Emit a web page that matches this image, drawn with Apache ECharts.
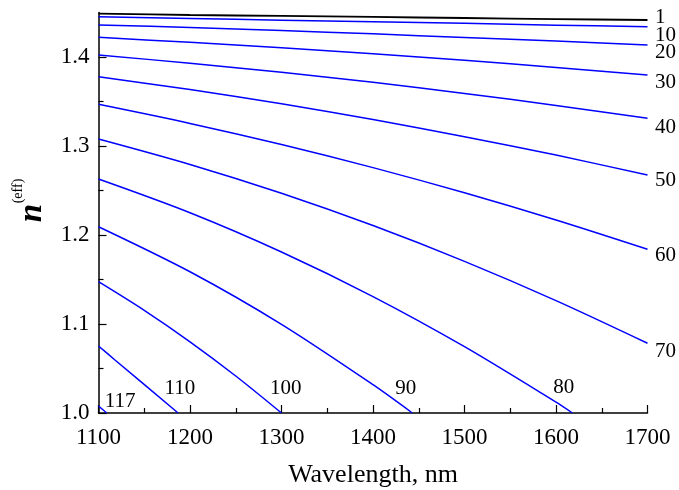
<!DOCTYPE html>
<html>
<head>
<meta charset="utf-8">
<script src="https://cdn.jsdelivr.net/npm/echarts@6/dist/echarts.min.js"></script>
<style>
  html, body { margin: 0; padding: 0; background: #fff; }
  #chart { width: 679px; height: 490px; }
</style>
</head>
<body>
<div id="chart"></div>
<script>
// Effective index of the guided modes versus wavelength.
const wavelength = [1100, 1200, 1300, 1400, 1500, 1600, 1700];
const mode1  = [1.4488, 1.4472, 1.4461, 1.4450, 1.4438, 1.4426, 1.4416];
const mode10 = [1.4453, 1.4433, 1.4414, 1.4396, 1.4378, 1.4358, 1.4340];
const mode20 = [1.4360, 1.4332, 1.4298, 1.4260, 1.4220, 1.4180, 1.4135];
const mode30 = [1.4221, 1.4165, 1.4104, 1.4036, 1.3963, 1.3883, 1.3798];
const mode40 = [1.4022, 1.3930, 1.3828, 1.3715, 1.3591, 1.3456, 1.3311];
const mode50 = [1.3779, 1.3634, 1.3474, 1.3298, 1.3105, 1.2898, 1.2674];
const mode60 = [1.3468, 1.3254, 1.3017, 1.2757, 1.2474, 1.2168, 1.1839];
const mode70 = [1.3079, 1.2793, 1.2469, 1.2106, 1.1704, 1.1263, 1.0784];

// Higher modes reach n = 1.0 (cut-off) inside the window.
const wl80   = [1100, 1200, 1300, 1400, 1500, 1600, 1618];
const mode80 = [1.2629, 1.2250, 1.1809, 1.1308, 1.0745, 1.0122, 1.0];
const wl90   = [1100, 1200, 1300, 1400, 1443];
const mode90 = [1.2093, 1.1587, 1.0996, 1.0318, 1.0];
const wl100   = [1100, 1150, 1200, 1250, 1300];
const mode100 = [1.1475, 1.1153, 1.0800, 1.0416, 1.0];
const wl110   = [1100, 1118, 1187];
const mode110 = [1.0753, 1.0596, 1.0];
const wl117   = [1100, 1109];
const mode117 = [1.0079, 1.0];

const xTicks = { min: 1100, max: 1700, step: 100 };
const yMajor = [1.0, 1.1, 1.2, 1.3, 1.4];
const yMinor = [1.05, 1.15, 1.25, 1.35];

const curves = [
  { name: '1',   x: wavelength, y: mode1 },
  { name: '10',  x: wavelength, y: mode10 },
  { name: '20',  x: wavelength, y: mode20 },
  { name: '30',  x: wavelength, y: mode30 },
  { name: '40',  x: wavelength, y: mode40 },
  { name: '50',  x: wavelength, y: mode50 },
  { name: '60',  x: wavelength, y: mode60 },
  { name: '70',  x: wavelength, y: mode70 },
  { name: '80',  x: wl80,  y: mode80 },
  { name: '90',  x: wl90,  y: mode90 },
  { name: '100', x: wl100, y: mode100 },
  { name: '110', x: wl110, y: mode110 },
  { name: '117', x: wl117, y: mode117 }
];

// Where each mode number sits relative to the curve's last point (pixels).
const labelPlacement = {
  '1':   { align: 'left',   dx: 7.5,  dy: -2.5 },
  '10':  { align: 'left',   dx: 7.5,  dy: 8.3 },
  '20':  { align: 'left',   dx: 7.5,  dy: 7 },
  '30':  { align: 'left',   dx: 7.5,  dy: 7.5 },
  '40':  { align: 'left',   dx: 7.5,  dy: 9.2 },
  '50':  { align: 'left',   dx: 7.5,  dy: 5.8 },
  '60':  { align: 'left',   dx: 7.5,  dy: 6.5 },
  '70':  { align: 'left',   dx: 7.5,  dy: 8.3 },
  '80':  { align: 'center', dx: -8.7, dy: -25.5 },
  '90':  { align: 'center', dx: -6.7, dy: -25 },
  '100': { align: 'center', dx: 4.3,  dy: -25 },
  '110': { align: 'center', dx: 1.7,  dy: -25 },
  '117': { align: 'center', dx: 13.3, dy: -11.5 }
};

const FONT = "'Liberation Serif', 'Times New Roman', serif";

const series = curves.map(c => {
  const pts = c.x.map((w, i) => [w, c.y[i]]);
  const last = pts[pts.length - 1];
  const lp = labelPlacement[c.name];
  return {
    name: c.name,
    type: 'line',
    data: pts,
    smooth: 0.3,
    showSymbol: false,
    clip: false,
    silent: true,
    lineStyle: { color: c.name === '1' ? '#000000' : '#0000ff', width: c.name === '1' ? 1.8 : 1.5 },
    markPoint: {
      symbol: 'circle',
      symbolSize: 1,
      silent: true,
      animation: false,
      itemStyle: { color: 'transparent' },
      label: {
        show: true,
        position: 'inside',
        formatter: c.name,
        color: '#000',
        fontFamily: FONT,
        fontSize: 21,
        align: lp.align,
        verticalAlign: 'middle',
        offset: [lp.dx, lp.dy]
      },
      data: [{ coord: last }]
    }
  };
});

const chart = echarts.init(document.getElementById('chart'), null, { renderer: 'canvas' });

chart.setOption({
  animation: false,
  backgroundColor: '#ffffff',
  textStyle: { fontFamily: FONT },
  grid: { left: 98.5, right: 31.5, top: 12.5, bottom: 77, containLabel: false, outerBoundsMode: 'none' },
  xAxis: {
    type: 'value',
    min: xTicks.min,
    max: xTicks.max,
    interval: xTicks.step,
    name: 'Wavelength, nm',
    nameLocation: 'middle',
    nameGap: 49,
    nameTextStyle: { fontSize: 26, color: '#000', fontFamily: FONT },
    axisLine: { show: true, onZero: false, lineStyle: { color: '#000', width: 1.5 } },
    axisTick: { show: true, inside: true, length: 8, lineStyle: { color: '#000', width: 1.2 } },
    minorTick: { show: true, splitNumber: 2, length: 5, lineStyle: { color: '#000', width: 1.2 } },
    axisLabel: { margin: 13, fontSize: 23, color: '#000', fontFamily: FONT, formatter: v => String(v) },
    splitLine: { show: false },
    minorSplitLine: { show: false }
  },
  yAxis: [
    {
      type: 'value',
      min: 1.0,
      max: 1.45,
      axisLine: { show: true, onZero: false, lineStyle: { color: '#000', width: 1.5 } },
      axisTick: { show: true, inside: true, length: 8, customValues: yMajor, lineStyle: { color: '#000', width: 1.2 } },
      axisLabel: { customValues: yMajor, formatter: v => Number(v).toFixed(1), margin: 9, fontSize: 23, color: '#000', fontFamily: FONT },
      splitLine: { show: false }
    },
    {
      type: 'value',
      min: 1.0,
      max: 1.45,
      position: 'left',
      offset: 0,
      axisLine: { show: false },
      axisTick: { show: true, inside: true, length: 5, customValues: yMinor, lineStyle: { color: '#000', width: 1.2 } },
      axisLabel: { show: false },
      splitLine: { show: false }
    }
  ],
  graphic: [
    {
      type: 'text',
      x: 32,
      y: 213,
      rotation: Math.PI / 2,
      silent: true,
      style: { text: 'n', fill: '#000', font: "italic bold 33px 'Liberation Serif', serif", align: 'center', verticalAlign: 'middle' }
    },
    {
      type: 'text',
      x: 18,
      y: 191,
      rotation: Math.PI / 2,
      silent: true,
      style: { text: '(eff)', fill: '#000', font: "14px 'Liberation Serif', serif", align: 'center', verticalAlign: 'middle' }
    }
  ],
  series: series
});
</script>
</body>
</html>
